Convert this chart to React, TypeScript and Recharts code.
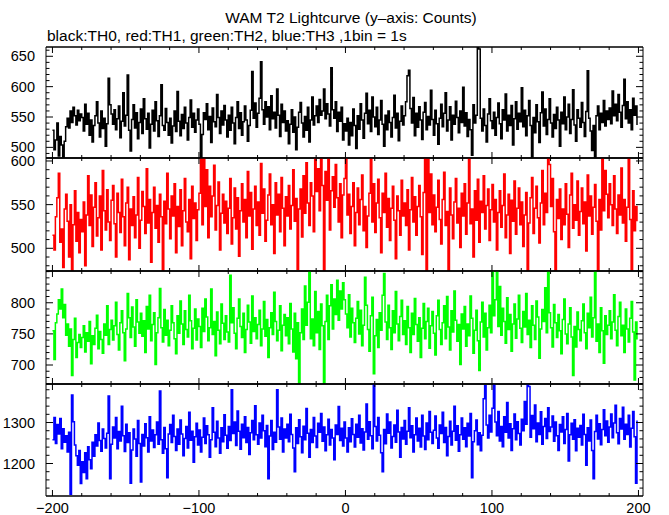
import { LineChart, Line, XAxis, YAxis } from "recharts";

const FONT = "'Liberation Sans', Arial, Helvetica, sans-serif";

// counts per 1 s bin, t = -200 .. 199
const th0 = [
  528, 496, 512, 540, 486, 518, 504, 480, 510, 534, 548, 532, 560, 541, 566, 552, 537, 561, 544, 555,
  549, 527, 571, 538, 556, 520, 545, 509, 536, 552, 575, 540, 517, 560, 531, 548, 502, 539, 614, 570,
  555, 538, 562, 529, 547, 568, 516, 543, 590, 535, 553, 619, 528, 494, 546, 570, 532, 557, 514, 541,
  563, 523, 580, 547, 530, 556, 499, 538, 561, 527, 575, 544, 518, 552, 603, 536, 528, 564, 541, 520,
  548, 507, 535, 560, 526, 592, 543, 519, 554, 531, 566, 540, 512, 549, 578, 533, 556, 525, 545, 563,
  538, 480, 521, 557, 546, 572, 529, 551, 508, 565, 542, 534, 587, 549, 523, 560, 537, 569, 545, 517,
  553, 528, 566, 540, 506, 549, 575, 531, 557, 520, 542, 568, 545, 510, 536, 561, 625, 548, 573, 533,
  556, 581, 641, 562, 538, 575, 550, 567, 529, 585, 547, 558, 532, 596, 553, 518, 571, 541, 560, 527,
  544, 506, 538, 562, 525, 550, 496, 533, 558, 574, 540, 517, 551, 528, 566, 509, 545, 583, 537, 552,
  568, 541, 579, 553, 560, 596, 547, 572, 555, 535, 631, 562, 548, 575, 526, 558, 543, 566, 512, 539,
  527, 548, 504, 541, 519, 563, 536, 498, 552, 530, 572, 545, 515, 556, 589, 539, 561, 526, 583, 550,
  534, 566, 521, 545, 577, 538, 502, 553, 529, 560, 541, 517, 549, 586, 532, 556, 511, 543, 568, 537,
  552, 575, 618, 627, 564, 540, 582, 519, 556, 533, 567, 545, 513, 558, 574, 529, 551, 537, 594, 546,
  520, 561, 539, 505, 548, 571, 534, 556, 590, 527, 545, 567, 512, 553, 538, 576, 549, 524, 560, 541,
  599, 535, 557, 518, 546, 529, 487, 570, 540, 553, 664, 662, 548, 527, 563, 536, 509, 555, 580, 544,
  531, 558, 520, 549, 573, 539, 514, 562, 545, 588, 527, 553, 536, 569, 504, 547, 575, 530, 556, 542,
  598, 534, 561, 519, 552, 577, 536, 483, 549, 524, 570, 542, 508, 557, 591, 535, 563, 521, 546, 580,
  540, 517, 554, 531, 566, 545, 502, 558, 539, 583, 529, 550, 571, 523, 546, 595, 537, 510, 562, 548,
  533, 574, 541, 518, 559, 626, 548, 527, 495, 536, 484, 552, 568, 529, 556, 541, 577, 535, 560, 546,
  565, 539, 593, 552, 571, 544, 587, 558, 533, 569, 612, 547, 575, 540, 562, 529, 581, 553, 568, 537,
];

const th1 = [
  515, 498, 536, 558, 586, 507, 522, 478, 545, 562, 531, 490, 550, 472, 527, 566, 508, 541, 495, 533,
  519, 553, 480, 538, 583, 526, 561, 502, 547, 575, 514, 535, 560, 498, 589, 543, 521, 567, 530, 509,
  555, 572, 528, 490, 563, 541, 518, 579, 536, 503, 552, 570, 487, 545, 526, 559, 512, 538, 581, 500,
  532, 565, 548, 517, 591, 529, 556, 484, 541, 570, 523, 549, 507, 562, 536, 475, 554, 528, 586, 545,
  511, 560, 537, 574, 495, 548, 525, 567, 503, 543, 580, 530, 519, 556, 488, 571, 534, 552, 509, 544,
  563, 604, 527, 604, 548, 590, 512, 571, 536, 560, 595, 521, 549, 576, 498, 540, 562, 529, 554, 517,
  546, 580, 505, 535, 569, 522, 558, 491, 543, 574, 530, 556, 512, 588, 537, 564, 499, 545, 571, 526,
  553, 515, 597, 540, 568, 508, 532, 561, 585, 527, 550, 494, 575, 538, 562, 519, 581, 546, 503, 559,
  537, 572, 522, 549, 590, 531, 557, 476, 545, 568, 513, 583, 540, 598, 552, 526, 575, 560, 519, 604,
  565, 591, 543, 604, 572, 472, 588, 555, 604, 521, 566, 582, 547, 596, 558, 530, 574, 512, 561, 580,
  604, 538, 562, 517, 548, 575, 503, 541, 569, 527, 556, 584, 520, 548, 501, 537, 563, 604, 530, 574,
  518, 552, 579, 535, 495, 563, 541, 586, 524, 557, 509, 546, 571, 532, 488, 560, 543, 515, 578, 537,
  552, 526, 567, 498, 544, 581, 530, 559, 515, 548, 572, 536, 493, 564, 604, 472, 602, 541, 585, 527,
  561, 519, 547, 578, 533, 505, 556, 587, 526, 542, 472, 569, 538, 511, 553, 580, 529, 546, 501, 563,
  537, 574, 516, 552, 604, 528, 545, 490, 566, 532, 579, 507, 554, 541, 583, 522, 549, 568, 509, 544,
  573, 530, 556, 498, 541, 566, 524, 549, 585, 512, 538, 562, 494, 555, 531, 577, 516, 546, 569, 527,
  553, 502, 538, 564, 472, 529, 558, 581, 517, 546, 571, 535, 506, 552, 589, 527, 563, 541, 604, 596,
  548, 580, 519, 472, 556, 534, 568, 510, 545, 527, 574, 539, 501, 561, 586, 523, 550, 532, 577, 515,
  542, 569, 528, 553, 497, 584, 537, 560, 516, 547, 573, 531, 472, 556, 521, 604, 543, 589, 562, 535,
  574, 550, 526, 583, 545, 517, 561, 538, 592, 529, 556, 508, 547, 604, 533, 472, 566, 520, 548, 531,
];

const th2 = [
  755, 709, 768, 782, 805, 790, 822, 776, 797, 748, 766, 730, 758, 683, 741, 775, 712, 736, 749, 728,
  744, 763, 721, 752, 738, 770, 702, 747, 733, 759, 780, 726, 754, 741, 719, 766, 748, 795, 733, 757,
  772, 740, 763, 801, 749, 724, 768, 787, 752, 707, 758, 815, 776, 744, 793, 761, 730, 805, 769, 751,
  783, 746, 771, 720, 794, 758, 812, 739, 765, 784, 701, 752, 776, 823, 760, 737, 789, 748, 772, 731,
  756, 795, 768, 742, 718, 779, 751, 803, 766, 733, 787, 757, 745, 812, 771, 726, 759, 790, 740, 774,
  762, 728, 791, 754, 806, 777, 739, 760, 822, 749, 770, 715, 785, 756, 734, 798, 767, 741, 779, 753,
  737, 844, 768, 792, 751, 726, 775, 806, 762, 744, 783, 720, 757, 796, 769, 735, 811, 754, 776, 742,
  765, 788, 731, 758, 802, 746, 773, 712, 760, 784, 749, 817, 770, 739, 756, 795, 723, 764, 781, 747,
  776, 734, 799, 758, 721, 783, 710, 768, 670, 752, 790, 741, 827, 764, 801, 851, 742, 774, 731, 818,
  752, 786, 725, 798, 763, 669, 770, 812, 741, 795, 829, 758, 806, 781, 836, 772, 819, 790, 832, 805,
  782, 760, 813, 745, 791, 768, 736, 775, 802, 750, 788, 731, 764, 841, 796, 757, 722, 779, 809, 686,
  747, 773, 728, 784, 756, 812, 847, 769, 741, 796, 760, 725, 787, 752, 818, 766, 739, 778, 804, 749,
  771, 733, 794, 760, 720, 783, 749, 807, 765, 738, 776, 712, 759, 799, 742, 770, 791, 727, 763, 786,
  751, 716, 779, 804, 757, 733, 768, 795, 742, 810, 761, 724, 787, 753, 819, 772, 738, 765, 701, 782,
  758, 794, 730, 766, 747, 811, 775, 719, 756, 788, 739, 691, 769, 801, 745, 783, 724, 760, 796, 752,
  851, 779, 805, 851, 762, 826, 748, 791, 770, 735, 808, 757, 781, 722, 766, 798, 743, 774, 812, 759,
  736, 786, 761, 815, 749, 772, 728, 795, 764, 741, 803, 777, 711, 758, 789, 770, 824, 752, 851, 784,
  760, 729, 797, 768, 744, 781, 755, 718, 773, 806, 750, 734, 766, 792, 745, 683, 762, 729, 785, 757,
  739, 771, 798, 752, 726, 783, 760, 809, 745, 776, 851, 738, 766, 720, 792, 755, 703, 779, 749, 764,
  787, 742, 769, 813, 756, 731, 778, 801, 747, 764, 720, 790, 758, 737, 775, 802, 753, 676, 769, 741,
];

const th3 = [
  1258, 1312, 1249, 1295, 1272, 1310, 1236, 1285, 1252, 1268, 1228, 1276, 1125, 1367, 1302, 1245, 1219, 1196, 1232, 1151,
  1204, 1178, 1226, 1163, 1241, 1209, 1187, 1252, 1218, 1270, 1243, 1299, 1256, 1230, 1284, 1261, 1238, 1274, 1365, 1163,
  1247, 1289, 1262, 1312, 1236, 1278, 1255, 1340, 1268, 1229, 1296, 1251, 1275, 1152, 1233, 1284, 1260, 1218, 1305, 1249,
  1155, 1271, 1243, 1297, 1263, 1228, 1314, 1255, 1282, 1239, 1270, 1301, 1247, 1377, 1258, 1225, 1288, 1236, 1165, 1272,
  1295, 1251, 1318, 1266, 1232, 1284, 1247, 1306, 1272, 1219, 1261, 1290, 1238, 1325, 1257, 1279, 1203, 1265, 1298, 1245,
  1282, 1228, 1264, 1311, 1249, 1292, 1270, 1215, 1258, 1336, 1276, 1241, 1303, 1262, 1225, 1287, 1253, 1319, 1269, 1237,
  1290, 1256, 1380, 1273, 1301, 1244, 1328, 1279, 1235, 1296, 1263, 1314, 1251, 1288, 1222, 1275, 1305, 1258, 1341, 1270,
  1247, 1299, 1262, 1318, 1280, 1241, 1293, 1163, 1267, 1305, 1234, 1276, 1252, 1380, 1289, 1259, 1311, 1228, 1284, 1262,
  1296, 1253, 1320, 1271, 1238, 1180, 1287, 1249, 1307, 1265, 1226, 1291, 1258, 1334, 1274, 1215, 1283, 1251, 1312, 1267,
  1239, 1298, 1276, 1322, 1254, 1289, 1231, 1270, 1308, 1245, 1283, 1262, 1209, 1294, 1271, 1339, 1256, 1286, 1243, 1301,
  1262, 1228, 1287, 1253, 1309, 1271, 1240, 1296, 1264, 1318, 1250, 1285, 1233, 1277, 1345, 1259, 1302, 1268, 1236, 1392,
  1290, 1255, 1312, 1269, 1226, 1180, 1283, 1248, 1321, 1274, 1301, 1238, 1266, 1294, 1252, 1330, 1277, 1215, 1288, 1260,
  1305, 1247, 1279, 1336, 1263, 1292, 1228, 1270, 1311, 1255, 1286, 1240, 1318, 1267, 1234, 1299, 1258, 1327, 1276, 1249,
  1281, 1316, 1262, 1237, 1294, 1273, 1325, 1251, 1288, 1219, 1266, 1303, 1245, 1279, 1340, 1257, 1292, 1230, 1270, 1311,
  1259, 1287, 1241, 1298, 1267, 1322, 1165, 1253, 1280, 1306, 1246, 1275, 1231, 1269, 1358, 1390, 1294, 1262, 1318, 1277,
  1335, 1394, 1301, 1268, 1327, 1255, 1290, 1241, 1314, 1276, 1349, 1262, 1297, 1232, 1285, 1321, 1258, 1302, 1273, 1245,
  1308, 1280, 1351, 1296, 1394, 1388, 1264, 1317, 1285, 1343, 1253, 1299, 1271, 1326, 1247, 1290, 1310, 1261, 1336, 1278,
  1289, 1316, 1254, 1301, 1268, 1232, 1295, 1277, 1314, 1249, 1283, 1322, 1206, 1270, 1298, 1259, 1307, 1231, 1286, 1264,
  1293, 1245, 1320, 1271, 1196, 1287, 1255, 1306, 1232, 1163, 1278, 1318, 1260, 1297, 1246, 1283, 1331, 1268, 1304, 1252,
  1289, 1321, 1263, 1299, 1342, 1275, 1248, 1310, 1284, 1337, 1259, 1296, 1271, 1318, 1240, 1286, 1327, 1265, 1152, 1305,
];

const timeTicks = [-200, -180, -160, -140, -120, -100, -80, -60, -40, -20, 0, 20, 40, 60, 80, 100, 120, 140, 160, 180, 200];
const timeLabels = [-200, -100, 0, 100, 200];

const th0Ticks = [490, 500, 510, 520, 530, 540, 550, 560, 570, 580, 590, 600, 610, 620, 630, 640, 650, 660];
const th0Labels = [500, 550, 600, 650];
const th1Ticks = [480, 490, 500, 510, 520, 530, 540, 550, 560, 570, 580, 590, 600];
const th1Labels = [500, 550, 600];
const th2Ticks = [670, 680, 690, 700, 710, 720, 730, 740, 750, 760, 770, 780, 790, 800, 810, 820, 830, 840, 850];
const th2Labels = [700, 750, 800];
const th3Ticks = [1140, 1160, 1180, 1200, 1220, 1240, 1260, 1280, 1300, 1320, 1340, 1360, 1380];
const th3Labels = [1200, 1300];

const rows = th0.map((v, i) => ({ t: -200 + i, th0: v, th1: th1[i], th2: th2[i], th3: th3[i] }));

const W = 669;
const H = 515;
const LEFT = 46;
const RIGHT = 643;

const panels = [
  { key: "th0", color: "#000000", top: 47, bottom: 158, domain: [482.5, 665.3], ticks: th0Ticks, labels: th0Labels },
  { key: "th1", color: "#ff0000", top: 158, bottom: 271, domain: [474, 603.4], ticks: th1Ticks, labels: th1Labels },
  { key: "th2", color: "#00ff00", top: 271, bottom: 384, domain: [669.5, 851], ticks: th2Ticks, labels: th2Labels },
  { key: "th3", color: "#0000ff", top: 384, bottom: 496, domain: [1120.7, 1394], ticks: th3Ticks, labels: th3Labels },
];

const fmt = (v: number) => (v < 0 ? "\u2212" + Math.abs(v) : String(v));

function BottomTick(props: any) {
  const { x, y, payload, showLabel } = props;
  const major = timeLabels.includes(payload.value);
  return (
    <g>
      <line x1={x} x2={x} y1={y} y2={y - (major ? 6 : 3)} stroke="#000" />
      {showLabel && major && (
        <text x={x} y={y + 17} textAnchor="middle" fontFamily={FONT} fontSize={14.5} fill="#000">
          {fmt(payload.value)}
        </text>
      )}
    </g>
  );
}

function TopTick(props: any) {
  const { x, y, payload } = props;
  const major = timeLabels.includes(payload.value);
  return <line x1={x} x2={x} y1={y} y2={y + (major ? 6 : 3)} stroke="#000" />;
}

function LeftTick(props: any) {
  const { x, y, payload, labels } = props;
  const major = labels.includes(payload.value);
  return (
    <g>
      <line x1={x} x2={x + (major ? 7 : 3.5)} y1={y} y2={y} stroke="#000" />
      {major && (
        <text x={x - 11} y={y + 5} textAnchor="end" fontFamily={FONT} fontSize={14.5} fill="#000">
          {payload.value}
        </text>
      )}
    </g>
  );
}

function RightTick(props: any) {
  const { x, y, payload, labels } = props;
  const major = labels.includes(payload.value);
  return <line x1={x} x2={x - (major ? 7 : 3.5)} y1={y} y2={y} stroke="#000" />;
}

export default function App() {
  return (
    <div style={{ position: "absolute", left: 0, top: 0, width: W, height: H, background: "#fff" }}>
      <svg width={W} height={H} style={{ position: "absolute", left: 0, top: 0 }}>
        <text x={351} y={23} textAnchor="middle" fontFamily={FONT} fontSize={15.5} fill="#000">
          WAM T2 Lightcurve (y{"\u2013"}axis: Counts)
        </text>
        <text x={47} y={41} fontFamily={FONT} fontSize={15.5} fill="#000">
          black:TH0, red:TH1, green:TH2, blue:TH3 ,1bin = 1s
        </text>
      </svg>
      {panels.map((p, idx) => (
        <div key={p.key} style={{ position: "absolute", left: 0, top: 0 }}>
          {/* axes are 1px thick, so the margins are one pixel short of the plot edges */}
          <LineChart
            width={W}
            height={H}
            data={rows}
            margin={{ top: p.top - 1, bottom: H - p.bottom - 1, left: LEFT - 1, right: W - RIGHT - 1 }}
          >
            <XAxis
              xAxisId="b"
              type="number"
              dataKey="t"
              domain={[-204.4, 203.1]}
              allowDataOverflow
              ticks={timeTicks}
              interval={0}
              height={1}
              tickSize={0}
              tickMargin={0}
              tickLine={false}
              axisLine={{ stroke: "#000", strokeWidth: 1.5 }}
              tick={(tp: any) => <BottomTick {...tp} showLabel={idx === panels.length - 1} />}
            />
            <XAxis
              xAxisId="t"
              orientation="top"
              type="number"
              dataKey="t"
              domain={[-204.4, 203.1]}
              allowDataOverflow
              ticks={timeTicks}
              interval={0}
              height={1}
              tickSize={0}
              tickMargin={0}
              tickLine={false}
              axisLine={{ stroke: "#000", strokeWidth: 1.5 }}
              tick={(tp: any) => <TopTick {...tp} />}
            />
            <YAxis
              yAxisId="l"
              type="number"
              domain={p.domain}
              allowDataOverflow
              ticks={p.ticks}
              interval={0}
              width={1}
              tickSize={0}
              tickMargin={0}
              tickLine={false}
              axisLine={{ stroke: "#000" }}
              tick={(tp: any) => <LeftTick {...tp} labels={p.labels} />}
            />
            <YAxis
              yAxisId="r"
              orientation="right"
              type="number"
              domain={p.domain}
              allowDataOverflow
              ticks={p.ticks}
              interval={0}
              width={1}
              tickSize={0}
              tickMargin={0}
              tickLine={false}
              axisLine={{ stroke: "#000" }}
              tick={(tp: any) => <RightTick {...tp} labels={p.labels} />}
            />
            <Line
              xAxisId="b"
              yAxisId="l"
              type="stepAfter"
              dataKey={p.key}
              stroke={p.color}
              strokeWidth={1.5}
              dot={false}
              isAnimationActive={false}
            />
          </LineChart>
        </div>
      ))}
    </div>
  );
}
